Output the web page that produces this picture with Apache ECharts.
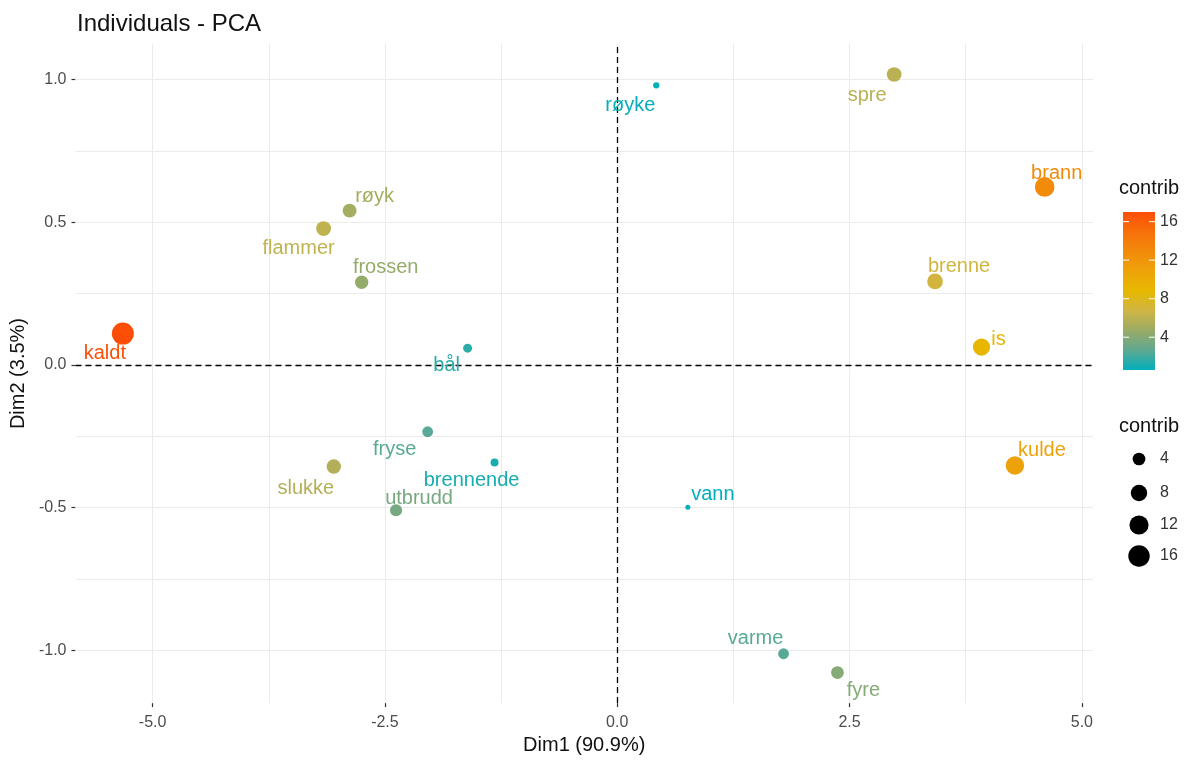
<!DOCTYPE html>
<html>
<head>
<meta charset="utf-8">
<script src="https://cdn.jsdelivr.net/npm/echarts@6/dist/echarts.min.js"></script>
<style>
html,body{margin:0;padding:0;background:#fff;}
#chart{width:1192px;height:760px;}
</style>
</head>
<body>
<div id="chart"></div>
<script>
// ---- data ----
const names   = ['kaldt','flammer','røyk','frossen','bål','fryse','brennende','slukke','utbrudd','røyke','spre','brann','brenne','is','kulde','vann','varme','fyre'];
const dim1    = [-5.32, -3.16, -2.88, -2.75, -1.61, -2.04, -1.32, -3.05, -2.38, 0.42, 2.98, 4.60, 3.42, 3.92, 4.28, 0.76, 1.79, 2.37];
const dim2    = [0.11, 0.478, 0.541, 0.29, 0.059, -0.234, -0.342, -0.356, -0.509, 0.98, 1.018, 0.624, 0.293, 0.063, -0.352, -0.499, -1.012, -1.078];
const contrib = [17.0, 6.1, 5.1, 4.5, 1.5, 2.5, 1.1, 5.6, 3.5, 0.7, 5.9, 12.8, 7.0, 9.1, 10.9, 0.6, 2.5, 4.0];
const xTicks = [-5, -2.5, 0, 2.5, 5];
const yTicks = [-1, -0.5, 0, 0.5, 1];
const xGrid = [-5, -3.75, -2.5, -1.25, 0, 1.25, 2.5, 3.75, 5];
const yGrid = [-1, -0.75, -0.5, -0.25, 0, 0.25, 0.5, 0.75, 1];
const legendBreaks = [4, 8, 12, 16];
const contribMin = 0.6, contribMax = 17.0;

// ---- styles ----
const gradientColors = ['#00AFBB','#5fa892','#9aab66','#d0b545','#E7B800','#eea30a','#f28a0a','#f7700a','#FC4E07'];
const labelOffsets = {
  'kaldt':[-18,20],'flammer':[-25,20],'røyk':[25,-14],'frossen':[24,-15],'bål':[-21,17],
  'fryse':[-33,18],'brennende':[-23,18],'slukke':[-28,22],'utbrudd':[23,-12],'røyke':[-26,20],
  'spre':[-27,21],'brann':[12,-13],'brenne':[24,-15],'is':[17,-8],'kulde':[27,-15],
  'vann':[25,-13],'varme':[-28,-15],'fyre':[26,18]
};
const FONT = '"Liberation Sans", Arial, sans-serif';
function sizeOf(v){ return 5 + 17*Math.sqrt(Math.max(0,(v-contribMin)/(contribMax-contribMin))); }

const chart = echarts.init(document.getElementById('chart'));

const pts = names.map((n,i)=>({name:n, value:[dim1[i], dim2[i], contrib[i]]}));

// legend graphics
const barX = 1123, barTop = 212, barH = 158, barW = 32;
const g = [];
g.push({type:'text', left:1119, top:178, style:{text:'contrib', font:'20px '+FONT, fill:'#111'}});
g.push({type:'rect', shape:{x:barX, y:barTop, width:barW, height:barH},
  style:{fill:new echarts.graphic.LinearGradient(0,1,0,0,
    gradientColors.map((c,i)=>({offset:i/(gradientColors.length-1), color:c})))}});
legendBreaks.forEach(v=>{
  const y = barTop + barH - (v-contribMin)/(contribMax-contribMin)*barH;
  g.push({type:'line', shape:{x1:barX, y1:y, x2:barX+6, y2:y}, style:{stroke:'#fff', lineWidth:1}});
  g.push({type:'line', shape:{x1:barX+barW-6, y1:y, x2:barX+barW, y2:y}, style:{stroke:'#fff', lineWidth:1}});
  g.push({type:'text', x:1160, y:y, style:{text:String(v), font:'16px '+FONT, fill:'#333', verticalAlign:'middle'}});
});
g.push({type:'text', left:1119, top:416, style:{text:'contrib', font:'20px '+FONT, fill:'#111'}});
const sizeRows = [459, 493, 525, 556];
legendBreaks.forEach((v,i)=>{
  g.push({type:'circle', shape:{cx:1139, cy:sizeRows[i], r:sizeOf(v)/2}, style:{fill:'#000'}});
  g.push({type:'text', x:1160, y:sizeRows[i], style:{text:String(v), font:'16px '+FONT, fill:'#333', verticalAlign:'middle'}});
});

const option = {
  animation:false,
  backgroundColor:'#fff',
  title:{text:'Individuals - PCA', left:72, top:7,
    textStyle:{fontFamily:FONT, fontSize:24, fontWeight:'normal', color:'#111'}},
  grid:{left:74, right:99, top:44, bottom:53},
  xAxis:{type:'value', min:-5.83, max:5.12,
    name:'Dim1 (90.9%)', nameLocation:'middle', nameGap:29,
    nameTextStyle:{fontFamily:FONT, fontSize:20, color:'#111', verticalAlign:'top'},
    axisLine:{show:true, onZero:false, lineStyle:{color:'rgba(0,0,0,0)', width:0}}, splitLine:{show:false},
    axisTick:{show:true, customValues:xTicks, length:4, lineStyle:{color:'#333', width:1.2}},
    axisLabel:{customValues:xTicks, formatter:v=>Number(v).toFixed(1), fontFamily:FONT, fontSize:16, color:'#4d4d4d', margin:11}},
  yAxis:{type:'value', min:-1.185, max:1.125,
    name:'Dim2 (3.5%)', nameLocation:'middle', nameGap:44, nameRotate:90,
    nameTextStyle:{fontFamily:FONT, fontSize:20, color:'#111'},
    axisLine:{show:true, onZero:false, lineStyle:{color:'rgba(0,0,0,0)', width:0}}, splitLine:{show:false},
    axisTick:{show:true, customValues:yTicks, length:4, lineStyle:{color:'#333', width:1.2}},
    axisLabel:{customValues:yTicks, formatter:v=>Number(v).toFixed(1), fontFamily:FONT, fontSize:16, color:'#4d4d4d', margin:9}},
  visualMap:{show:false, type:'continuous', dimension:2, min:contribMin, max:contribMax, seriesIndex:2,
    inRange:{color:gradientColors}},
  series:[
    {type:'scatter', data:[], silent:true, z:1,
      markLine:{silent:true, symbol:'none', z:1, label:{show:false}, animation:false,
        lineStyle:{color:'#ebebeb', width:1, type:'solid'},
        data:[...xGrid.map(v=>({xAxis:v})), ...yGrid.map(v=>({yAxis:v}))]}},
    {type:'scatter', data:[], silent:true, z:2,
      markLine:{silent:true, symbol:'none', z:2, label:{show:false}, animation:false,
        lineStyle:{color:'#000', width:1.3, type:[6,4]},
        data:[{xAxis:0},{yAxis:0}]}},
    {type:'scatter', z:3, data:pts,
      symbolSize:(val)=>sizeOf(val[2]),
      label:{show:true, position:'inside', formatter:'{b}', color:'inherit',
        fontFamily:FONT, fontSize:20, align:'center', verticalAlign:'middle'},
      labelLayout:(p)=>{
        const o = labelOffsets[names[p.dataIndex]] || [0,0];
        return {dx:o[0], dy:o[1], hideOverlap:false};
      },
      itemStyle:{opacity:1}}
  ],
  graphic:g
};
chart.setOption(option);
</script>
</body>
</html>
